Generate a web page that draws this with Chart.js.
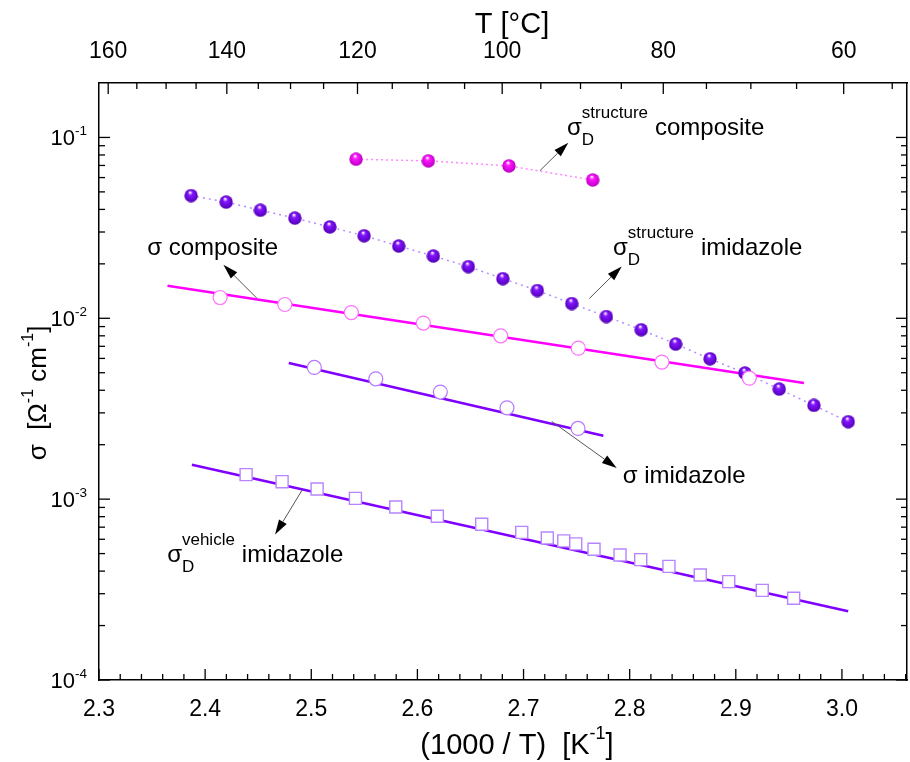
<!DOCTYPE html>
<html><head><meta charset="utf-8">
<script src="https://cdn.jsdelivr.net/npm/chart.js@4.4.1/dist/chart.umd.min.js"></script>
<style>html,body{margin:0;padding:0;background:#fff}#wrap{width:910px;height:762px}</style>
</head><body><div id="wrap"><canvas id="c" width="910" height="762"></canvas></div>
<script>
// ---------------- data ----------------
const structCompX = [2.5422, 2.6103, 2.6863, 2.7652];
const structCompY = [0.0758, 0.0742, 0.0696, 0.0582];

const structImiX = [2.3868, 2.4198, 2.4521, 2.4845, 2.5175, 2.5498, 2.5824, 2.6150, 2.6480, 2.6805,
                    2.7130, 2.7454, 2.7780, 2.8109, 2.8433, 2.8757, 2.9086, 2.9409, 2.9736, 3.0059];
const structImiY = [0.0477, 0.0439, 0.0396, 0.0358, 0.0320, 0.0286, 0.0251, 0.0221, 0.0193, 0.01657,
                    0.01424, 0.01207, 0.01023, 0.00864, 0.00720, 0.00597, 0.00498, 0.00406, 0.00330, 0.00268];

const sigCompX = [2.4141, 2.4751, 2.5378, 2.6056, 2.6785, 2.7516, 2.8304, 2.9127];
const sigCompY = [0.01303, 0.01192, 0.01076, 0.00941, 0.00800, 0.00684, 0.00573, 0.00467];
const sigCompFitX = [2.3645, 2.9642];
const sigCompFitY = [0.01512, 0.004385];

const sigImiX = [2.5029, 2.5608, 2.6216, 2.6844, 2.7513];
const sigImiY = [0.00535, 0.00463, 0.00391, 0.00320, 0.00246];
const sigImiFitX = [2.4788, 2.7752];
const sigImiFitY = [0.00566, 0.002243];

const vehX = [2.4386, 2.4725, 2.5055, 2.5416, 2.5796, 2.6188, 2.6606, 2.6983, 2.7224, 2.7379,
              2.7492, 2.7664, 2.7909, 2.8104, 2.8370, 2.8665, 2.8933, 2.9249, 2.9545];
const vehY = [0.001366, 0.001249, 0.001138, 0.001010, 0.000905, 0.000804, 0.000726, 0.000655, 0.000610, 0.000588,
              0.000566, 0.000528, 0.000491, 0.000463, 0.000425, 0.000381, 0.000350, 0.000313, 0.000283];
const vehFitX = [2.3875, 3.0059];
const vehFitY = [0.001551, 0.000240];

const xTickValues = [2.3, 2.4, 2.5, 2.6, 2.7, 2.8, 2.9, 3.0];
const yTickValues = [1e-4, 1e-3, 1e-2, 1e-1];
const yTickExponents = ['-4', '-3', '-2', '-1'];
const topTickLabels = [160, 140, 120, 100, 80, 60];

// ---------------- styling ----------------
const FF = '"Liberation Sans", Arial, Helvetica, sans-serif';
const fnt = s => s + 'px ' + FF;
const MAG = '#FF00FF', PUR = '#7F00FF';
const toTopVal = t => 1000 / (t + 273.15);
const pts = (xs, ys) => xs.map((x, i) => ({x: x, y: ys[i]}));

function ball(base, dark, d) {
  const c = document.createElement('canvas');
  c.width = c.height = d;
  const g = c.getContext('2d');
  const r = d / 2;
  const grad = g.createRadialGradient(r * 0.85, r * 0.5, r * 0.05, r, r, r);
  grad.addColorStop(0, '#ffffff');
  grad.addColorStop(0.3, base);
  grad.addColorStop(1, dark);
  g.fillStyle = grad;
  g.beginPath(); g.arc(r, r, r - 0.3, 0, Math.PI * 2); g.fill();
  return c;
}
const magBall = ball('#FF14FF', '#B800C0', 14);
const purBall = ball('#8414FF', '#5000B4', 14);

// annotations: anchor in data coords (x, log10 y)
const arrows = [
  [2.7155, -1.1834, 2.7422, -1.0287],
  [2.7620, -1.8906, 2.7925, -1.7138],
  [2.4487, -1.8884, 2.4172, -1.7044],
  [2.7266, -2.5702, 2.7878, -2.8276],
  [2.4916, -2.9475, 2.4659, -3.1961]
];
const labels = [
  {x: 2.7410, ly: -0.9862, sup: 'structure', sub: 'D', main: 'composite'},
  {x: 2.7843, ly: -1.6492, sup: 'structure', sub: 'D', main: 'imidazole'},
  {x: 2.3454, ly: -1.6492, text: 'σ composite'},
  {x: 2.7934, ly: -2.9088, text: 'σ imidazole'},
  {x: 2.3642, ly: -3.3453, sup: 'vehicle', sub: 'D', main: 'imidazole'}
];

function drawRich(ctx, parts, cx, y) {
  let total = 0;
  parts.forEach(p => { ctx.font = fnt(p[1]); total += ctx.measureText(p[0]).width; });
  let x = cx - total / 2;
  ctx.textAlign = 'left'; ctx.textBaseline = 'alphabetic';
  parts.forEach(p => {
    ctx.font = fnt(p[1]);
    ctx.fillText(p[0], x, y + (p[2] || 0));
    x += ctx.measureText(p[0]).width;
  });
}

const decor = {
  id: 'decor',
  afterDraw(chart) {
    const ctx = chart.ctx, ca = chart.chartArea;
    const sx = chart.scales.x, sy = chart.scales.y;
    ctx.save();
    ctx.strokeStyle = '#000'; ctx.lineWidth = 1.3;
    const L = (x1, y1, x2, y2) => { ctx.beginPath(); ctx.moveTo(x1, y1); ctx.lineTo(x2, y2); ctx.stroke(); };
    const MJ = 11, MN = 6;
    // bottom ticks
    xTickValues.forEach(v => { const p = sx.getPixelForValue(v); L(p, ca.bottom, p, ca.bottom - MJ); });
    for (let k = 0; k < 40; k++) {
      const v = 2.3 + k * 0.02;
      if (v > sx.max) break;
      if (k % 5 === 0) continue;
      const p = sx.getPixelForValue(v); L(p, ca.bottom, p, ca.bottom - MN);
    }
    // top ticks
    topTickLabels.forEach(t => { const p = sx.getPixelForValue(toTopVal(t)); L(p, ca.top, p, ca.top + MJ); });
    for (let t = 55; t <= 160; t += 5) {
      if (t % 20 === 0) continue;
      const v = toTopVal(t);
      if (v < sx.min || v > sx.max) continue;
      const p = sx.getPixelForValue(v); L(p, ca.top, p, ca.top + MN);
    }
    // left / right ticks
    yTickValues.forEach(v => {
      const p = sy.getPixelForValue(v);
      L(ca.left, p, ca.left + MJ, p); L(ca.right, p, ca.right - MJ, p);
    });
    for (let e = -4; e <= -1; e++) {
      for (let m = 2; m <= 9; m++) {
        const v = m * Math.pow(10, e);
        if (v >= sy.max) continue;
        const p = sy.getPixelForValue(v);
        L(ca.left, p, ca.left + MN, p); L(ca.right, p, ca.right - MN, p);
      }
    }
    // y tick labels 10^n
    ctx.fillStyle = '#000'; ctx.textBaseline = 'alphabetic'; ctx.textAlign = 'left';
    yTickValues.forEach((v, i) => {
      const p = sy.getPixelForValue(v);
      ctx.font = fnt(13.5);
      const ws = ctx.measureText(yTickExponents[i]).width;
      ctx.font = fnt(22);
      const wb = ctx.measureText('10').width;
      const right = ca.left - 12;
      ctx.fillText('10', right - ws - wb, p + 8);
      ctx.font = fnt(13.5);
      ctx.fillText(yTickExponents[i], right - ws, p - 2);
    });
    // axis titles
    drawRich(ctx, [['(1000 / T)  [K', 29], ['-1', 18, -15], [']', 29]], (ca.left + ca.right) / 2 + 14, 754);
    drawRich(ctx, [['T [°C]', 29]], 512, 33);
    ctx.save();
    ctx.translate(46, 393); ctx.rotate(-Math.PI / 2);
    drawRich(ctx, [['σ  [Ω', 26], ['-1', 16, -13], [' cm', 26], ['-1', 16, -13], [']', 26]], 0, 0);
    ctx.restore();
    // arrows
    const P = (xv, ly) => [sx.getPixelForValue(xv), sy.getPixelForValue(Math.pow(10, ly))];
    arrows.forEach(a => {
      const s = P(a[0], a[1]), t = P(a[2], a[3]);
      const ang = Math.atan2(t[1] - s[1], t[0] - s[0]);
      const HL = 15, HW = 4.5;
      const bx = t[0] - HL * Math.cos(ang), by = t[1] - HL * Math.sin(ang);
      ctx.strokeStyle = '#555'; ctx.lineWidth = 1;
      L(s[0], s[1], bx, by);
      ctx.fillStyle = '#000';
      ctx.beginPath();
      ctx.moveTo(t[0], t[1]);
      ctx.lineTo(bx + HW * Math.sin(ang), by - HW * Math.cos(ang));
      ctx.lineTo(bx - HW * Math.sin(ang), by + HW * Math.cos(ang));
      ctx.closePath(); ctx.fill();
    });
    // labels
    ctx.fillStyle = '#000'; ctx.textAlign = 'left'; ctx.textBaseline = 'alphabetic';
    labels.forEach(l => {
      const p = P(l.x, l.ly);
      if (l.text) { ctx.font = fnt(24); ctx.fillText(l.text, p[0], p[1]); return; }
      ctx.font = fnt(24); ctx.fillText('σ', p[0], p[1]);
      const w = ctx.measureText('σ').width;
      ctx.font = fnt(17);
      ctx.fillText(l.sup, p[0] + w, p[1] - 17);
      const wsup = ctx.measureText(l.sup).width;
      ctx.fillText(l.sub, p[0] + w, p[1] + 10);
      const wsub = ctx.measureText(l.sub).width;
      ctx.font = fnt(24);
      ctx.fillText(l.main, p[0] + w + Math.max(wsup, wsub) + 7, p[1]);
    });
    ctx.restore();
  }
};

const axisBorder = {display: true, color: '#000', width: 1.5};
const tickFont = {family: FF, size: 23};
const fitH = h => s => { s.height = h; s.paddingLeft = 0; s.paddingRight = 0; };

new Chart(document.getElementById('c'), {
  type: 'scatter',
  data: {
    datasets: [
      {label: 'σ_D structure composite', data: pts(structCompX, structCompY), showLine: true,
       borderColor: '#FF88FF', borderWidth: 1.5, borderDash: [2, 3], pointStyle: magBall, order: 1},
      {label: 'σ_D structure imidazole', data: pts(structImiX, structImiY), showLine: true,
       borderColor: '#B48CFF', borderWidth: 1.5, borderDash: [2, 4], pointStyle: purBall, order: 2},
      {label: 'σ composite', data: pts(sigCompX, sigCompY), showLine: false,
       pointStyle: 'circle', pointRadius: 7, pointBackgroundColor: '#fff', pointBorderColor: '#FF70FF', pointBorderWidth: 1.2, order: 1},
      {label: 'σ composite fit', data: pts(sigCompFitX, sigCompFitY), showLine: true,
       borderColor: MAG, borderWidth: 2.6, pointRadius: 0, order: 5},
      {label: 'σ imidazole', data: pts(sigImiX, sigImiY), showLine: false,
       pointStyle: 'circle', pointRadius: 7, pointBackgroundColor: '#fff', pointBorderColor: '#B678FF', pointBorderWidth: 1.2, order: 1},
      {label: 'σ imidazole fit', data: pts(sigImiFitX, sigImiFitY), showLine: true,
       borderColor: PUR, borderWidth: 2.6, pointRadius: 0, order: 5},
      {label: 'σ_D vehicle imidazole', data: pts(vehX, vehY), showLine: false,
       pointStyle: 'rect', pointRadius: 8.5, pointBackgroundColor: '#fff', pointBorderColor: '#B685FF', pointBorderWidth: 1.4, order: 1},
      {label: 'σ_D vehicle imidazole fit', data: pts(vehFitX, vehFitY), showLine: true,
       borderColor: PUR, borderWidth: 2.6, pointRadius: 0, order: 5}
    ]
  },
  options: {
    responsive: false, animation: false, devicePixelRatio: 1,
    layout: {padding: 0, autoPadding: false},
    plugins: {legend: {display: false}, tooltip: {enabled: false}},
    elements: {point: {radius: 7, hoverRadius: 7}, line: {tension: 0}},
    scales: {
      x: {
        type: 'linear', position: 'bottom', min: 2.3, max: 3.0613,
        afterBuildTicks: s => { s.ticks = xTickValues.map(v => ({value: v})); },
        afterFit: fitH(82),
        ticks: {callback: v => v.toFixed(1), font: tickFont, color: '#000', padding: 8, maxRotation: 0, autoSkip: false},
        grid: {display: false}, border: axisBorder
      },
      xTop: {
        type: 'linear', position: 'top', min: 2.3, max: 3.0613,
        afterBuildTicks: s => { s.ticks = topTickLabels.map(t => ({value: toTopVal(t)})); },
        afterFit: fitH(83),
        ticks: {callback: (v, i) => String(topTickLabels[i]), font: tickFont, color: '#000', padding: 10, maxRotation: 0, autoSkip: false},
        grid: {display: false}, border: axisBorder
      },
      y: {
        type: 'logarithmic', position: 'left', min: 1e-4, max: 0.2,
        afterBuildTicks: s => { s.ticks = yTickValues.map(v => ({value: v})); },
        afterFit: s => { s.width = 99; s.paddingTop = 0; s.paddingBottom = 0; },
        ticks: {display: false},
        grid: {display: false}, border: axisBorder
      },
      y2: {
        type: 'logarithmic', position: 'right', min: 1e-4, max: 0.2,
        afterBuildTicks: s => { s.ticks = yTickValues.map(v => ({value: v})); },
        afterFit: s => { s.width = 3; s.paddingTop = 0; s.paddingBottom = 0; },
        ticks: {display: false},
        grid: {display: false}, border: axisBorder
      }
    }
  },
  plugins: [decor]
});
</script>
</body></html>
